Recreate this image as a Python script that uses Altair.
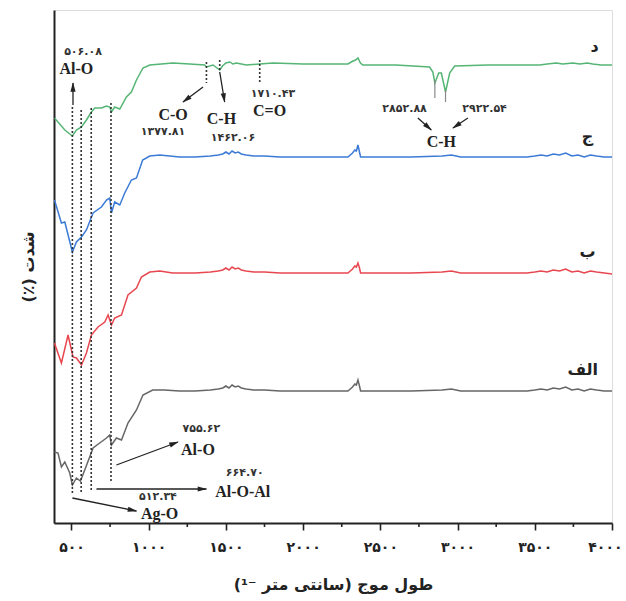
import math
import altair as alt
import pandas as pd

# ---------------- data ----------------
# intensity in arbitrary units (curves are vertically offset)
alef_x = [390, 413, 435, 457, 489, 506, 532, 558, 586, 618, 640, 683, 727, 748, 759, 791, 824, 866, 921, 963, 1026,
          1100, 1200, 1300, 1400, 1450, 1480, 1500, 1520, 1540, 1560, 1580, 1600, 1630, 1680, 1750, 1850, 2000, 2150,
          2250, 2290, 2320, 2335, 2345, 2355, 2365, 2372, 2400, 2500, 2700, 2900, 2960, 3020, 3200, 3450, 3500, 3540,
          3580, 3620, 3660, 3700, 3740, 3780, 3820, 3860, 3900, 3950, 4000]
alef_y = [68, 67, 53, 58, 47, 35, 42, 39, 50, 63, 72, 77, 82, 85, 75, 82, 80, 97, 110, 125, 130,
          130, 129, 129, 130, 131, 132, 134, 132, 135, 133, 134, 132, 131, 130, 130, 129, 129, 129,
          129, 129, 133, 136, 135, 140, 134, 129, 129, 129, 129, 130, 131, 129, 129, 129, 130, 131,
          130, 132, 131, 133, 130, 131, 129, 131, 130, 129, 129]

be_x = [390, 435, 478, 510, 532, 565, 597, 629, 672, 716, 737, 759, 780, 824, 866, 921, 953, 1007, 1072, 1156,
        1300, 1400, 1450, 1480, 1500, 1520, 1540, 1560, 1580, 1600, 1630, 1680, 1750, 1850, 2000, 2150,
        2250, 2290, 2320, 2335, 2345, 2355, 2365, 2372, 2400, 2500, 2700, 2900, 2960, 3020, 3200, 3450, 3500, 3540,
        3580, 3620, 3660, 3700, 3740, 3780, 3820, 3860, 3900, 3950, 4000]
be_y = [177, 157, 185, 163, 162, 155, 167, 185, 193, 198, 205, 195, 202, 205, 225, 232, 243, 248, 249, 247,
        247, 248, 249, 250, 252, 250, 253, 251, 252, 250, 249, 248, 248, 247, 247, 247,
        247, 247, 251, 254, 253, 257, 252, 247, 247, 247, 247, 248, 249, 247, 247, 247, 248, 249,
        248, 250, 249, 251, 248, 249, 247, 249, 248, 247, 246]

jim_x = [390, 435, 457, 506, 532, 565, 597, 640, 694, 727, 748, 759, 780, 813, 845, 888, 921, 961, 1007, 1072,
         1200, 1300, 1400, 1450, 1480, 1500, 1520, 1540, 1560, 1580, 1600, 1630, 1680, 1750, 1850, 2000, 2150,
         2250, 2290, 2320, 2335, 2345, 2355, 2365, 2372, 2400, 2500, 2700, 2900, 2960, 3020, 3200, 3450, 3500, 3540,
         3580, 3620, 3660, 3700, 3740, 3780, 3820, 3860, 3900, 3950, 4000]
jim_y = [320, 297, 298, 268, 278, 283, 290, 307, 313, 320, 322, 307, 318, 315, 327, 340, 342, 360, 364, 365,
         363, 363, 364, 365, 366, 368, 366, 369, 367, 368, 366, 365, 364, 364, 363, 363, 363,
         363, 363, 367, 370, 369, 375, 368, 363, 363, 363, 363, 364, 365, 363, 363, 363, 364, 365,
         364, 366, 365, 367, 364, 365, 363, 365, 364, 363, 363]

dal_x = [390, 457, 506, 532, 565, 597, 629, 651, 694, 727, 748, 759, 780, 813, 856, 888, 921, 963, 1007, 1156,
         1266, 1363, 1374, 1417, 1460, 1478, 1500, 1526, 1545, 1568, 1600, 1633, 1719, 1805, 2000, 2237,
         2290, 2323, 2340, 2355, 2371, 2387, 2600, 2819, 2840, 2853, 2878, 2895, 2922, 2949, 2981, 3200,
         3450, 3531, 3580, 3639, 3680, 3747, 3791, 3840, 3875, 3930, 4000]
dal_y = [402, 390, 384, 390, 393, 400, 408, 412, 412, 414, 413, 408, 413, 411, 423, 428, 440, 452, 455, 457,
         456, 455, 453, 455, 450, 454, 457, 458, 456, 457, 456, 455, 456, 457, 456, 456,
         456, 459, 460, 462, 457, 455, 455, 453, 448, 437, 447, 447, 428, 447, 454, 455,
         455, 455, 456, 457, 456, 457, 456, 457, 456, 455, 455]

series_names = ["الف", "ب", "ج", "د"]
series_colors = ["#666666", "#e8474f", "#3b7bd6", "#55b574"]

# curve labels
lab_x = [3810, 3842, 3842, 3887]
lab_y = [150, 268, 383, 473]

# dotted marker lines (position, top, bottom)
dot_x = [506, 563, 628, 756, 1374, 1460, 1719]
dot_top = [413, 410, 412, 417, 458, 460, 460]
dot_bot = [25, 28, 30, 38, 437, 450, 438]

# thin drop lines under the C-H bands
drop_x = [2853, 2922]
drop_top = [440, 430]
drop_bot = [422, 418]

# arrows (start -> end)
arr_x1 = [510, 1352, 1460, 2743, 3067, 791, 662, 506]
arr_y1 = [415, 433, 448, 402, 402, 55, 31, 22]
arr_x2 = [510, 1222, 1492, 2830, 2970, 1190, 1374, 921]
arr_y2 = [437, 418, 418, 390, 392, 78, 31, 9]

# band labels (Latin)
band_text = ["Al-O", "C-O", "C-H", "C=O", "C-H", "Al-O", "Al-O-Al", "Ag-O"]
band_x = [532, 1158, 1471, 1783, 2895, 1319, 1609, 1071]
band_y = [451, 405, 401, 409, 378, 70, 28, 6]

# wavenumber labels (Persian digits)
num_text = ["۵۰۶.۰۸", "۱۳۷۷.۸۱", "۱۴۶۲.۰۶", "۱۷۱۰.۴۳", "۲۸۵۲.۸۸", "۲۹۲۲.۵۴", "۷۵۵.۶۲", "۶۶۴.۷۰", "۵۱۲.۳۴"]
num_x = [575, 1093, 1546, 1805, 2657, 3175, 1341, 1622, 1060]
num_y = [468, 388, 382, 426, 411, 411, 91, 47, 23]

tick_vals = [500, 1000, 1500, 2000, 2500, 3000, 3500, 4000]
tick_labels = ["۵۰۰", "۱۰۰۰", "۱۵۰۰", "۲۰۰۰", "۲۵۰۰", "۳۰۰۰", "۳۵۰۰", "۴۰۰۰"]
minor_vals = [750, 1250, 1750, 2250, 2750, 3250, 3750]

x_title = "طول موج (سانتی متر ⁻¹)"
y_title = "(٪) شدت"

# ---------------- layout ----------------
W, H = 558, 513
XDOM = [387, 4000]
YDOM = [-3, 510]
pxw = W / (XDOM[1] - XDOM[0])
pxv = H / (YDOM[1] - YDOM[0])

rows = []
for name, xs_, ys_ in zip(series_names, [alef_x, be_x, jim_x, dal_x], [alef_y, be_y, jim_y, dal_y]):
    for i, (a, b) in enumerate(zip(xs_, ys_)):
        rows.append({"s": name, "w": a, "v": b, "o": i})
df = pd.DataFrame(rows)

xs = alt.Scale(domain=XDOM, nice=False, zero=False)
ys = alt.Scale(domain=YDOM, nice=False, zero=False)

label_expr = " : ".join(f"datum.value == {v} ? '{t}'" for v, t in zip(tick_vals, tick_labels)) + " : ''"

lines = alt.Chart(df).mark_line(strokeWidth=1.5, clip=True).encode(
    x=alt.X("w:Q", scale=xs, axis=alt.Axis(values=tick_vals, labelExpr=label_expr, title=x_title,
                                              tickSize=7, tickWidth=1.6, tickColor="#222", grid=False,
                                              domainColor="#222", domainWidth=2,
                                              labelFont="DejaVu Sans", labelFontSize=14, labelFontWeight="bold",
                                              labelColor="#222", labelPadding=10,
                                              labelFlush=True, labelFlushOffset=10,
                                              titleFont="DejaVu Sans", titleFontSize=16, titleFontWeight="bold",
                                              titleColor="#222", titlePadding=22)),
    y=alt.Y("v:Q", scale=ys, axis=alt.Axis(labels=False, ticks=False, grid=False, title=y_title,
                                              domainColor="#222", domainWidth=2,
                                              titleFont="DejaVu Sans", titleFontSize=16, titleFontWeight="bold",
                                              titleColor="#222", titlePadding=18)),
    color=alt.Color("s:N", scale=alt.Scale(domain=series_names, range=series_colors), legend=None),
    order="o:Q",
)

dots_df = pd.DataFrame({"w": dot_x, "v": dot_top, "v2": dot_bot})
dots = alt.Chart(dots_df).mark_rule(strokeDash=[2, 2], strokeWidth=1.6, color="#333").encode(
    x=alt.X("w:Q", scale=xs), y=alt.Y("v:Q", scale=ys), y2="v2:Q")

drop_df = pd.DataFrame({"w": drop_x, "v": drop_top, "v2": drop_bot})
drops = alt.Chart(drop_df).mark_rule(strokeWidth=1.2, color="#888").encode(
    x=alt.X("w:Q", scale=xs), y=alt.Y("v:Q", scale=ys), y2="v2:Q")

arr = pd.DataFrame({"w": arr_x1, "v": arr_y1, "w2": arr_x2, "v2": arr_y2})
ang, hx, hy = [], [], []
for a, b, c, d in zip(arr_x1, arr_y1, arr_x2, arr_y2):
    dx = (c - a) * pxw
    dy = -(d - b) * pxv
    L = math.hypot(dx, dy)
    ux, uy = dx / L, dy / L
    ang.append(math.degrees(math.atan2(dx, -dy)) % 360)
    hx.append(c - 4 * ux / pxw)
    hy.append(d + 4 * uy / pxv)
arr["ang"] = ang
arr["hx"] = hx
arr["hy"] = hy

shafts = alt.Chart(arr).mark_rule(strokeWidth=1.3, color="#222").encode(
    x=alt.X("w:Q", scale=xs), y=alt.Y("v:Q", scale=ys), x2="w2:Q", y2="v2:Q")
heads = alt.Chart(arr).mark_point(shape="M0,-1L0.55,1L-0.55,1Z", filled=True, size=90, color="#222", opacity=1).encode(
    x=alt.X("hx:Q", scale=xs), y=alt.Y("hy:Q", scale=ys), angle=alt.Angle("ang:Q", scale=None))

band_df = pd.DataFrame({"t": band_text, "w": band_x, "v": band_y})
bands = alt.Chart(band_df).mark_text(font="Liberation Serif", fontSize=16, fontWeight="bold", color="#222").encode(
    x=alt.X("w:Q", scale=xs), y=alt.Y("v:Q", scale=ys), text="t:N")

num_df = pd.DataFrame({"t": num_text, "w": num_x, "v": num_y})
nums = alt.Chart(num_df).mark_text(font="DejaVu Sans", fontSize=11, fontWeight="bold", color="#333").encode(
    x=alt.X("w:Q", scale=xs), y=alt.Y("v:Q", scale=ys), text="t:N")

lab_df = pd.DataFrame({"t": series_names, "w": lab_x, "v": lab_y})
labs = alt.Chart(lab_df).mark_text(font="DejaVu Sans", fontSize=16, fontWeight="bold", color="#222").encode(
    x=alt.X("w:Q", scale=xs), y=alt.Y("v:Q", scale=ys), text="t:N")

minor_df = pd.DataFrame({"w": minor_vals})
minor = alt.Chart(minor_df).mark_rule(strokeWidth=1.6, color="#222").encode(
    x=alt.X("w:Q", scale=xs), y=alt.value(H), y2=alt.value(H + 4))

chart = alt.layer(lines, dots, drops, shafts, heads, bands, nums, labs, minor).properties(
    width=W, height=H,
    autosize=alt.AutoSizeParams(type="none"),
    padding={"left": 54, "top": 10, "right": 14, "bottom": 78},
).configure_view(stroke="#222", strokeWidth=2).configure(background="white")

chart.save("out.html", embed_options={"renderer": "svg", "actions": False})
